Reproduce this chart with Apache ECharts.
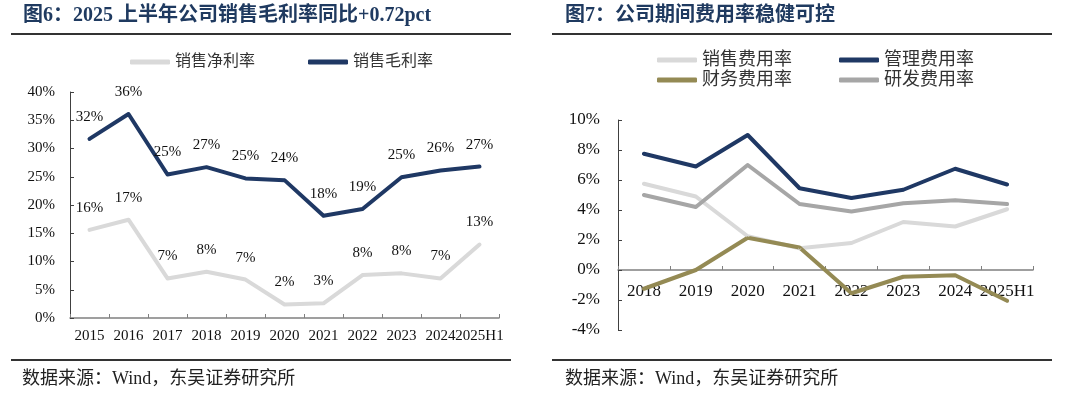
<!DOCTYPE html>
<html>
<head>
<meta charset="utf-8">
<script src="https://cdn.jsdelivr.net/npm/echarts@6/dist/echarts.min.js"></script>
<style>
html,body{margin:0;padding:0;background:#fff;}
#chart{width:1080px;height:394px;}
</style>
</head>
<body>
<div id="chart"></div>
<script>
const years1 = ['2015','2016','2017','2018','2019','2020','2021','2022','2023','2024','2025H1'];
const netMargin = [15.6, 17.4, 7.0, 8.2, 6.8, 2.4, 2.6, 7.6, 7.9, 7.0, 13.0];
const grossMargin = [31.7, 36.1, 25.4, 26.7, 24.7, 24.4, 18.1, 19.3, 24.9, 26.1, 26.8];
const leftTicks = [0, 40, 5]; // min, max, interval

const years2 = ['2018','2019','2020','2021','2022','2023','2024','2025H1'];
const salesExp = [5.75, 4.9, 2.25, 1.45, 1.8, 3.2, 2.9, 4.05];
const mgmtExp = [7.75, 6.9, 9.0, 5.45, 4.8, 5.35, 6.75, 5.7];
const finExp = [-1.25, 0.0, 2.15, 1.5, -1.55, -0.45, -0.35, -2.05];
const rdExp = [5.0, 4.2, 7.0, 4.4, 3.9, 4.45, 4.65, 4.4];
const rightTicks = [-4, 10, 2];

const title1 = '图6：2025 上半年公司销售毛利率同比+0.72pct';
const title2 = '图7：公司期间费用率稳健可控';
const source = '数据来源：Wind，东吴证券研究所';

const FONT = '"Liberation Serif", "Times New Roman", "Noto Sans CJK SC", serif';
const NAVY = '#1F3864';
const LGRAY = '#D9D9D9';
const OLIVE = '#948A54';
const MGRAY = '#A6A6A6';
const TITLE_C = '#1F3A60';

const chart = echarts.init(document.getElementById('chart'));

function lineSeries(name, data, color, xi, label) {
  return {
    name: name, type: 'line', data: data,
    xAxisIndex: xi, yAxisIndex: xi,
    showSymbol: true, symbol: 'circle', symbolSize: 3, smooth: false,
    lineStyle: { color: color, width: 4, cap: 'round', join: 'round' },
    itemStyle: { color: color, borderWidth: 0 },
    label: label ? {
      show: true, position: 'top', distance: 13,
      fontFamily: FONT, fontSize: 15, color: '#111',
      formatter: p => Math.round(p.value) + '%'
    } : { show: false },
    emphasis: { disabled: true },
    labelLayout: { hideOverlap: false },
    z: 3
  };
}

const option = {
  backgroundColor: '#fff',
  animation: false,
  textStyle: { fontFamily: FONT },
  grid: [
    { left: 70, top: 92, width: 429, height: 226 },
    { left: 618, top: 120, width: 415, height: 210 }
  ],
  legend: [
    {
      data: ['销售净利率', '销售毛利率'],
      left: 130, top: 54, padding: 0, itemGap: 53,
      itemWidth: 40, itemHeight: 5, icon: 'roundRect',
      textStyle: { fontFamily: FONT, fontSize: 16, color: '#333' }
    },
    {
      data: ['销售费用率', '管理费用率'],
      left: 657, top: 51, padding: 0, itemGap: 47,
      itemWidth: 40, itemHeight: 5, icon: 'roundRect',
      textStyle: { fontFamily: FONT, fontSize: 18, color: '#333' }
    },
    {
      data: ['财务费用率', '研发费用率'],
      left: 657, top: 71, padding: 0, itemGap: 47,
      itemWidth: 40, itemHeight: 5, icon: 'roundRect',
      textStyle: { fontFamily: FONT, fontSize: 18, color: '#333' }
    }
  ],
  xAxis: [
    {
      type: 'category', gridIndex: 0, data: years1, boundaryGap: true,
      axisLine: { lineStyle: { color: '#808080', width: 1.5 } },
      axisTick: { show: true, inside: true, length: 4, lineStyle: { color: '#808080' } },
      axisLabel: { interval: 0, margin: 11, fontFamily: FONT, fontSize: 15, color: '#111' }
    },
    {
      type: 'category', gridIndex: 1, data: years2, boundaryGap: true,
      position: 'bottom', offset: -60,
      axisLine: { onZero: false, lineStyle: { color: '#808080', width: 1.5 } },
      axisTick: { show: true, inside: true, length: 4, lineStyle: { color: '#808080' } },
      axisLabel: { interval: 0, margin: 13, fontFamily: FONT, fontSize: 17, color: '#111' }
    }
  ],
  yAxis: [
    {
      type: 'value', gridIndex: 0, min: leftTicks[0], max: leftTicks[1], interval: leftTicks[2],
      axisLine: { show: true, lineStyle: { color: '#404040', width: 1 } },
      axisTick: { show: true, inside: true, length: 4, lineStyle: { color: '#404040' } },
      splitLine: { show: false },
      axisLabel: { margin: 15, fontFamily: FONT, fontSize: 15, color: '#111', formatter: v => v + '%' }
    },
    {
      type: 'value', gridIndex: 1, min: rightTicks[0], max: rightTicks[1], interval: rightTicks[2],
      axisLine: { show: true, lineStyle: { color: '#404040', width: 1 } },
      axisTick: { show: true, inside: true, length: 4, lineStyle: { color: '#404040' } },
      splitLine: { show: false },
      axisLabel: { margin: 18, fontFamily: FONT, fontSize: 17, color: '#111', formatter: v => v + '%' }
    }
  ],
  series: [
    lineSeries('销售净利率', netMargin, LGRAY, 0, true),
    lineSeries('销售毛利率', grossMargin, NAVY, 0, true),
    lineSeries('销售费用率', salesExp, LGRAY, 1, false),
    lineSeries('管理费用率', mgmtExp, NAVY, 1, false),
    lineSeries('财务费用率', finExp, OLIVE, 1, false),
    lineSeries('研发费用率', rdExp, MGRAY, 1, false)
  ],
  graphic: [
    { type: 'text', left: 23, top: 6, style: { text: title1, font: 'bold 20px ' + FONT, fill: TITLE_C } },
    { type: 'text', left: 565, top: 6, style: { text: title2, font: 'bold 20px ' + FONT, fill: TITLE_C } },
    { type: 'line', shape: { x1: 11, y1: 34, x2: 511, y2: 34 }, style: { stroke: '#333', lineWidth: 2 } },
    { type: 'line', shape: { x1: 552, y1: 34, x2: 1052, y2: 34 }, style: { stroke: '#333', lineWidth: 2 } },
    { type: 'line', shape: { x1: 11, y1: 360, x2: 511, y2: 360 }, style: { stroke: '#333', lineWidth: 2 } },
    { type: 'line', shape: { x1: 552, y1: 360, x2: 1052, y2: 360 }, style: { stroke: '#333', lineWidth: 2 } },
    { type: 'text', left: 22, top: 370, style: { text: source, font: '18px ' + FONT, fill: '#222' } },
    { type: 'text', left: 565, top: 370, style: { text: source, font: '18px ' + FONT, fill: '#222' } }
  ]
};
chart.setOption(option);
</script>
</body>
</html>
